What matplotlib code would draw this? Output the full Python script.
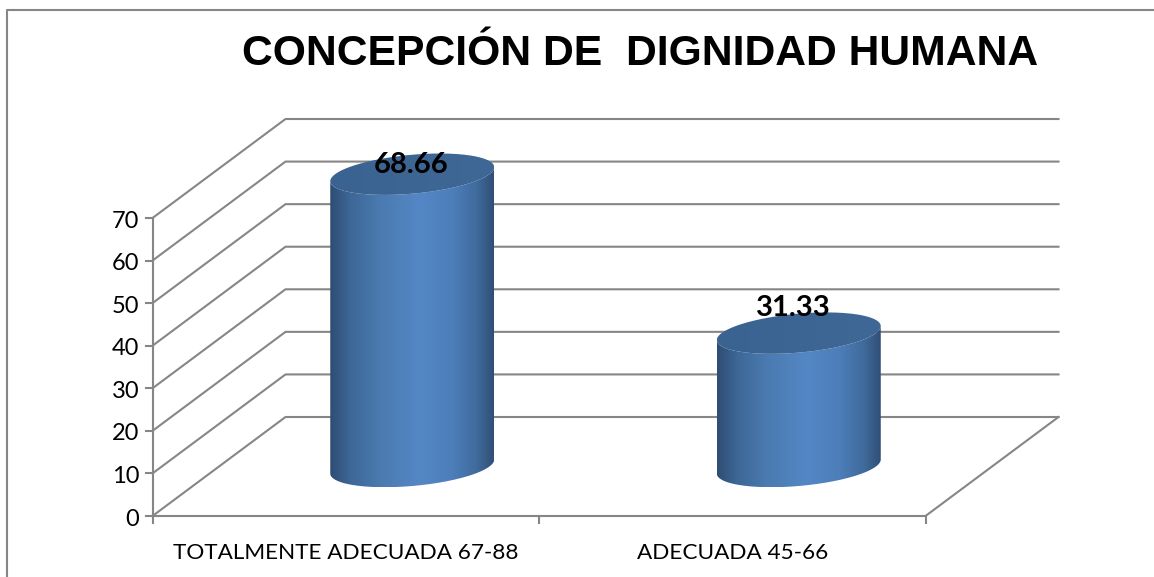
import numpy as np
import matplotlib
matplotlib.use("Agg")
import matplotlib.pyplot as plt
from matplotlib.colors import LinearSegmentedColormap
from matplotlib.path import Path
from matplotlib.patches import PathPatch

categories = ["TOTALMENTE ADECUADA 67-88", "ADECUADA 45-66"]
values = [68.66, 31.33]
value_labels = ["68.66", "31.33"]
y_ticks = [0, 10, 20, 30, 40, 50, 60, 70]
title = "CONCEPCIÓN DE  DIGNIDAD HUMANA"

# picture geometry of the oblique 3d box, in pixels
x0, y0 = 152.5, 516
px_per_unit = 4.257
cat_width = 386.5
dx, dy = 133, -99
grid_col = "#868686"
grid_lw = 1.5
label_lift = [9, 25]
label_shift = [-1, -5]

side = LinearSegmentedColormap.from_list("side", [
    (0.0, "#2e4d73"), (0.12, "#3d6796"), (0.3, "#4a7aaf"), (0.55, "#5487c6"),
    (0.75, "#4d7eb9"), (0.9, "#3f6a9b"), (1.0, "#2f4f76")])
top_cm = LinearSegmentedColormap.from_list("top", ["#3b6391", "#3f6897"])


def to_px(cat, val, depth=0.0):
    return x0 + cat * cat_width + depth * dx, y0 - val * px_per_unit + depth * dy


def ellipse(cx, cy, a, b, s, t):
    return cx + a * np.cos(t), cy - s * np.cos(t) + b * np.sin(t)


def fill_gradient(ax, xs, ys, cmap, zorder):
    path = Path(np.column_stack([xs, ys]))
    patch = PathPatch(path, fc="none", ec="none", transform=ax.transData)
    ax.add_patch(patch)
    grad = np.linspace(0, 1, 256).reshape(1, -1)
    im = ax.imshow(grad, cmap=cmap, aspect="auto", zorder=zorder,
                   extent=[xs.min(), xs.max(), ys.max(), ys.min()])
    im.set_clip_path(patch)


plt.rcParams["font.family"] = ["Lato", "DejaVu Sans"]
fig = plt.figure(figsize=(11.54, 5.77), dpi=100)
ax = fig.add_axes([0, 0, 1, 1])

# outer frame
ax.plot([7, 7, 1154], [577, 10, 10], color=grid_col, lw=grid_lw)

# walls and floor
for v in y_ticks:
    xa, ya = to_px(0, v)
    xb, yb = to_px(0, v, 1)
    xc, yc = to_px(len(categories), v, 1)
    ax.plot([xa, xb, xc], [ya, yb, yc], color=grid_col, lw=grid_lw, zorder=1)
    ax.plot([xa - 7, xa], [ya, ya], color=grid_col, lw=grid_lw, zorder=1)
    ax.text(xa - 13, ya + 3, str(v), ha="right", va="center", fontsize=17, color="black")

xa, ya = to_px(0, y_ticks[0])
xb, yb = to_px(len(categories), y_ticks[0])
xc, yc = to_px(len(categories), y_ticks[0], 1)
ax.plot([xa, xb, xc], [ya, yb, yc], color=grid_col, lw=grid_lw, zorder=1)
xt, yt = to_px(0, y_ticks[-1])
ax.plot([xa, xt], [ya, yt], color=grid_col, lw=grid_lw, zorder=1)
for i in range(len(categories) + 1):
    xi, yi = to_px(i, 0)
    ax.plot([xi, xi], [yi, yi + 7], color=grid_col, lw=grid_lw, zorder=1)

# cylinders
a, b, s = 82, 19.5, 7
for i, (val, lab) in enumerate(zip(values, value_labels)):
    cx, cy_bot = to_px(i + 0.5, 0, 0.5)
    cy_top = cy_bot - val * px_per_unit
    t_low = np.linspace(0, np.pi, 120)
    xb_, yb_ = ellipse(cx, cy_bot, a, b, s, t_low)
    xt_, yt_ = ellipse(cx, cy_top, a, b, s, t_low[::-1])
    fill_gradient(ax, np.r_[xb_, xt_], np.r_[yb_, yt_], side, 3)
    t_all = np.linspace(0, 2 * np.pi, 240)
    xe, ye = ellipse(cx, cy_top, a, b, s, t_all)
    fill_gradient(ax, xe, ye, top_cm, 4)
    ax.text(cx + label_shift[i], cy_top - label_lift[i], lab, ha="center", va="center",
            fontsize=21, fontweight="bold", color="black", zorder=6)

for i, cat in enumerate(categories):
    xl, yl = to_px(i + 0.5, 0)
    ax.text(xl, yl + 37, cat, ha="center", va="center", fontsize=16.2, color="black")

ax.text(640, 54, title, ha="center", va="center", fontsize=30.7, fontweight="bold",
        family=["Liberation Sans", "DejaVu Sans"], color="black")

ax.set_xlim(0, 1154)
ax.set_ylim(577, 0)
ax.axis("off")
fig.savefig("out.png", dpi=100)
